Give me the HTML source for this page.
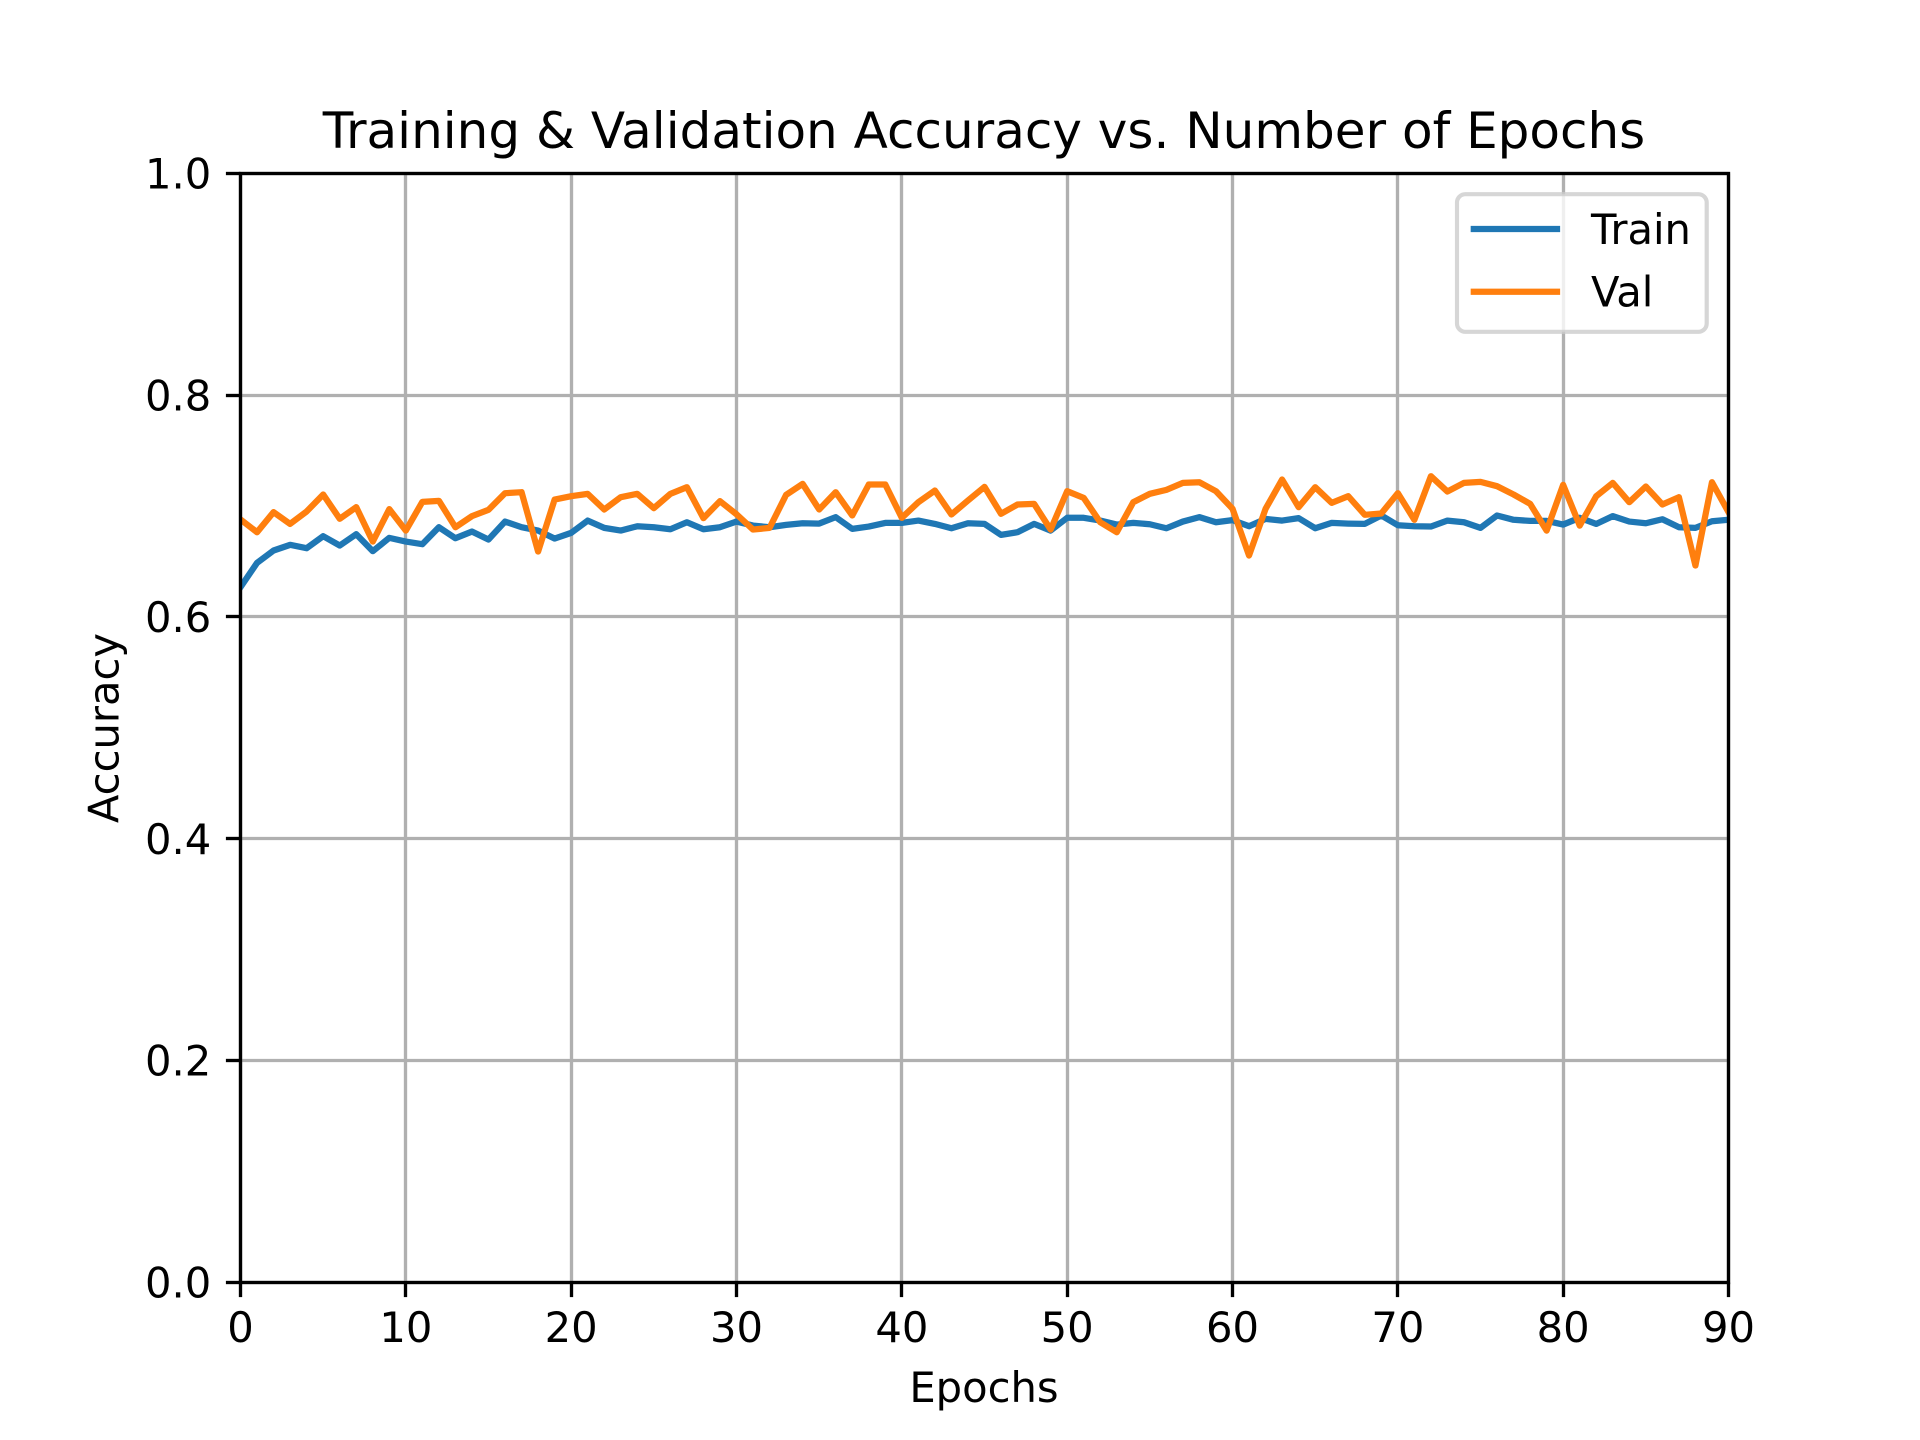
<!DOCTYPE html>
<html lang="en">
<head>
<meta charset="utf-8">
<title>Training &amp; Validation Accuracy vs. Number of Epochs</title>
<style>
html,body{margin:0;padding:0;background:#fff;width:1920px;height:1440px;overflow:hidden}
svg{display:block}
text{font-family:"DejaVu Sans","Liberation Sans",sans-serif;fill:#000}
</style>
</head>
<body>
<svg id="chart" xmlns="http://www.w3.org/2000/svg" width="1920" height="1440" viewBox="0 0 1920 1440">
  <defs><clipPath id="plot-clip"><rect x="240.5" y="173.5" width="1488" height="1109"/></clipPath></defs>
  <rect x="0" y="0" width="1920" height="1440" fill="#fff"/>
  <g id="grid"></g>
  <g id="series" clip-path="url(#plot-clip)"></g>
  <g>
    <rect x="1457" y="194.2" width="249.7" height="137.6" rx="8.3" ry="8.3" fill="#fff" fill-opacity="0.8" stroke="#ccc" stroke-opacity="0.8" stroke-width="4.17"/>
    <line x1="1473.8" y1="229" x2="1557" y2="229" stroke="#1f77b4" stroke-width="6.25" stroke-linecap="square"/>
    <text x="1591" y="244" font-size="41.67">Train</text>
    <line x1="1473.8" y1="291.7" x2="1557" y2="291.7" stroke="#ff7f0e" stroke-width="6.25" stroke-linecap="square"/>
    <text x="1591" y="306.7" font-size="41.67">Val</text>
  </g>
  <g id="ticks"></g>
  <rect x="240.5" y="173.5" width="1488" height="1109" fill="none" stroke="#000" stroke-width="3.33"/>
  <text x="984" y="148" font-size="50" text-anchor="middle">Training &amp; Validation Accuracy vs. Number of Epochs</text>
  <text x="984" y="1402" font-size="41.67" text-anchor="middle">Epochs</text>
  <text transform="translate(118.3,728) rotate(-90)" font-size="41.67" text-anchor="middle">Accuracy</text>
</svg>
<script>
const xTickValues = [0, 10, 20, 30, 40, 50, 60, 70, 80, 90];
const yTickValues = [0, 0.2, 0.4, 0.6, 0.8, 1];
const yTickLabels = ['0.0', '0.2', '0.4', '0.6', '0.8', '1.0'];
const trainAccuracy = [
  .6267,.6487,.6598,.6649,.6619,.6727,.6643,.6745,.6592,.6712,
  .6679,.6655,.6808,.6709,.6769,.6697,.6859,.6808,.6778,.6706,
  .6757,.6868,.6802,.6778,.6817,.6808,.6790,.6853,.6790,.6808,
  .6859,.6823,.6808,.6829,.6844,.6841,.6899,.6793,.6814,.6847,
  .6847,.6868,.6838,.6799,.6844,.6838,.6739,.6763,.6838,.6778,
  .6893,.6893,.6868,.6832,.6847,.6835,.6799,.6859,.6899,.6853,
  .6872,.6817,.6883,.6868,.6890,.6799,.6847,.6841,.6838,.6914,
  .6826,.6817,.6814,.6868,.6853,.6802,.6914,.6875,.6865,.6865,
  .6832,.6893,.6838,.6908,.6859,.6844,.6880,.6808,.6802,.6862,.6875
];
const valAccuracy = [
  .6878,.6763,.6944,.6838,.6950,.7103,.6884,.6989,.6679,.6971,
  .6778,.7037,.7046,.6808,.6908,.6965,.7115,.7124,.6589,.7058,
  .7088,.7109,.6968,.7079,.7109,.6980,.7109,.7169,.6890,.7043,
  .6925,.6787,.6802,.7100,.7199,.6968,.7124,.6914,.7193,.7193,
  .6893,.7034,.7139,.6923,.7049,.7172,.6929,.7013,.7019,.6787,
  .7133,.7073,.6853,.6763,.7034,.7109,.7145,.7208,.7214,.7133,
  .6975,.6553,.6974,.7238,.6989,.7169,.7028,.7088,.6920,.6932,
  .7115,.6875,.7268,.7130,.7208,.7217,.7178,.7103,.7019,.6778,
  .7190,.6823,.7088,.7208,.7034,.7175,.7013,.7079,.6463,.7214,.6944
];

const NS = 'http://www.w3.org/2000/svg';
const plotLeft = 240.5, plotRight = 1728.5, plotTop = 173.3, plotBottom = 1282.1;
const xMin = 0, xMax = 90, yMin = 0, yMax = 1;
const tickLength = 14.6, tickPad = 14.6, digitHeight = 30.4;

function xScale(v) { return plotLeft + (v - xMin) / (xMax - xMin) * (plotRight - plotLeft); }
function yScale(v) { return plotBottom - (v - yMin) / (yMax - yMin) * (plotBottom - plotTop); }
function snap(p) { return Math.floor(p) + 0.5; }
function makeLine(parent, x1, y1, x2, y2, color, width) {
  const el = document.createElementNS(NS, 'line');
  el.setAttribute('x1', x1);
  el.setAttribute('y1', y1);
  el.setAttribute('x2', x2);
  el.setAttribute('y2', y2);
  el.setAttribute('stroke', color);
  el.setAttribute('stroke-width', width);
  parent.appendChild(el);
  return el;
}
function makeText(parent, x, y, anchor, content) {
  const el = document.createElementNS(NS, 'text');
  el.setAttribute('x', x);
  el.setAttribute('y', y);
  el.setAttribute('text-anchor', anchor);
  el.setAttribute('font-size', '41.67');
  el.textContent = content;
  parent.appendChild(el);
  return el;
}
function makeSeries(parent, values, color) {
  const el = document.createElementNS(NS, 'polyline');
  el.setAttribute('points', values.map((v, i) => xScale(i).toFixed(2) + ',' + yScale(v).toFixed(2)).join(' '));
  el.setAttribute('fill', 'none');
  el.setAttribute('stroke', color);
  el.setAttribute('stroke-width', '6.25');
  el.setAttribute('stroke-linejoin', 'round');
  el.setAttribute('stroke-linecap', 'square');
  parent.appendChild(el);
  return el;
}

const gridGroup = document.getElementById('grid');
const tickGroup = document.getElementById('ticks');
const seriesGroup = document.getElementById('series');

xTickValues.forEach(function (v) {
  const px = snap(xScale(v));
  const gridLine = makeLine(gridGroup, px, snap(plotTop), px, snap(plotBottom), '#b0b0b0', 3.33);
  
  
  const tick = makeLine(tickGroup, px, snap(plotBottom), px, snap(plotBottom) + tickLength, '#000', 3.33);
  
  
  const label = makeText(tickGroup, xScale(v), snap(plotBottom) + tickLength + tickPad + digitHeight, 'middle', String(v));
  
  
});

yTickValues.forEach(function (v, i) {
  const py = snap(yScale(v));
  const gridLine = makeLine(gridGroup, plotLeft, py, plotRight, py, '#b0b0b0', 3.33);
  
  
  const tick = makeLine(tickGroup, plotLeft - tickLength, py, plotLeft, py, '#000', 3.33);
  
  
  const label = makeText(tickGroup, plotLeft - tickLength - tickPad, yScale(v) + digitHeight / 2, 'end', yTickLabels[i]);
  
  
});

const trainLine = makeSeries(seriesGroup, trainAccuracy, '#1f77b4');


const valLine = makeSeries(seriesGroup, valAccuracy, '#ff7f0e');


</script>
</body>
</html>
